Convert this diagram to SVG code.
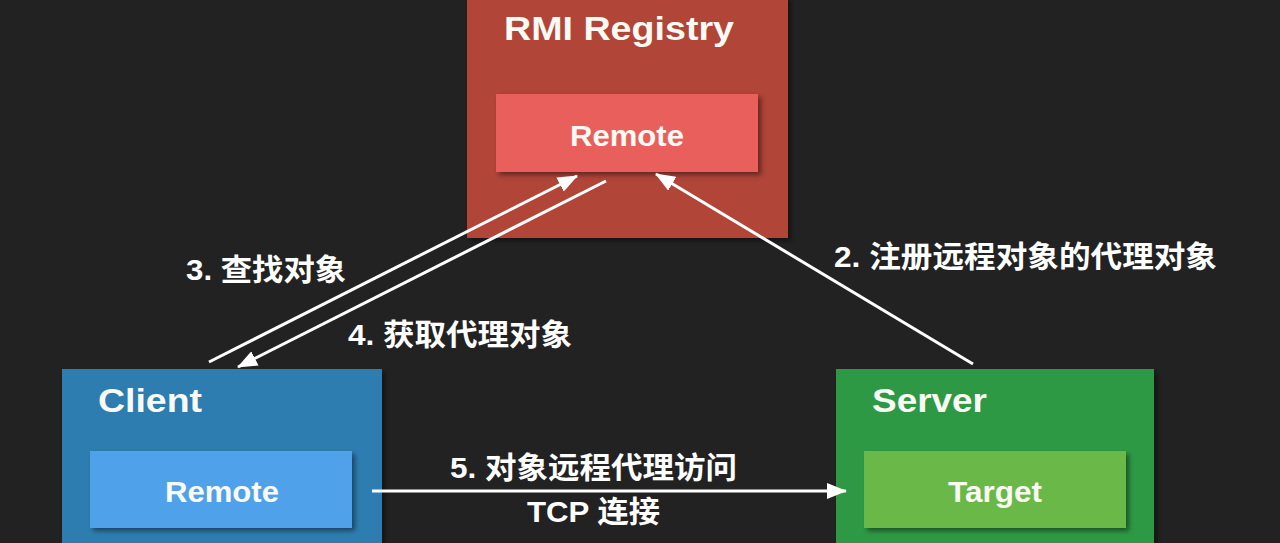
<svg xmlns="http://www.w3.org/2000/svg" width="1280" height="543" viewBox="0 0 1280 543">
  <defs>
    <filter id="sh" x="-10%" y="-10%" width="125%" height="130%">
      <feDropShadow dx="3" dy="3" stdDeviation="2.5" flood-color="#000" flood-opacity="0.45"/>
    </filter>
    <marker id="ah" viewBox="0 0 20 16" refX="19" refY="8" markerWidth="20" markerHeight="16" markerUnits="userSpaceOnUse" orient="auto">
      <path d="M0,0 L20,8 L0,16 z" fill="#ffffff"/>
    </marker>
    <style>
      .title{font-family:"Liberation Sans","Noto Sans CJK SC",sans-serif;font-weight:bold;font-size:34px;fill:#fafaf5}
      .inner{font-family:"Liberation Sans","Noto Sans CJK SC",sans-serif;font-weight:bold;font-size:29px;fill:#fafaf5;text-anchor:middle}
      .lbl{font-family:"Liberation Sans","Noto Sans CJK SC",sans-serif;font-weight:bold;font-size:30px;fill:#ffffff}
      .conn{stroke:#ffffff;stroke-width:3;fill:none;marker-end:url(#ah)}
    </style>
  </defs>
  <rect x="0" y="0" width="1280" height="543" fill="#222222"/>

  <g id="registry">
    <rect x="467" y="-5" width="321" height="243" fill="#b04538" filter="url(#sh)"/>
    <text class="title" x="504" y="40" textLength="230" lengthAdjust="spacingAndGlyphs">RMI Registry</text>
    <rect x="496" y="94" width="262" height="78" fill="#e85f5b" filter="url(#sh)"/>
    <text class="inner" x="627" y="146" textLength="114" lengthAdjust="spacingAndGlyphs">Remote</text>
  </g>

  <g id="client">
    <rect x="62" y="369" width="320" height="180" fill="#2f7db0" filter="url(#sh)"/>
    <text class="title" x="98" y="412" textLength="104" lengthAdjust="spacingAndGlyphs">Client</text>
    <rect x="90" y="451" width="262" height="77" fill="#4fa2ea" filter="url(#sh)"/>
    <text class="inner" x="222" y="502" textLength="114" lengthAdjust="spacingAndGlyphs">Remote</text>
  </g>

  <g id="server">
    <rect x="836" y="369" width="318" height="180" fill="#2f9944" filter="url(#sh)"/>
    <text class="title" x="872" y="412" textLength="115" lengthAdjust="spacingAndGlyphs">Server</text>
    <rect x="864" y="451" width="262" height="77" fill="#6bb846" filter="url(#sh)"/>
    <text class="inner" x="995" y="502" textLength="94" lengthAdjust="spacingAndGlyphs">Target</text>
  </g>

  <g id="connectors">
    <line class="conn" x1="209" y1="362" x2="577" y2="176"/>
    <line class="conn" x1="606" y1="181" x2="238" y2="367"/>
    <line class="conn" x1="973" y1="364" x2="656" y2="174"/>
    <line class="conn" x1="372" y1="491" x2="846" y2="491"/>
  </g>

  <g id="labels">
    <text class="lbl" x="186" y="280" textLength="160" lengthAdjust="spacingAndGlyphs">3. 查找对象</text>
    <text class="lbl" x="348" y="345" textLength="224" lengthAdjust="spacingAndGlyphs">4. 获取代理对象</text>
    <text class="lbl" x="834" y="267" textLength="383" lengthAdjust="spacingAndGlyphs">2. 注册远程对象的代理对象</text>
    <text class="lbl" x="450" y="478" textLength="287" lengthAdjust="spacingAndGlyphs">5. 对象远程代理访问</text>
    <text class="lbl" x="527" y="522" textLength="133" lengthAdjust="spacingAndGlyphs">TCP 连接</text>
  </g>
</svg>
